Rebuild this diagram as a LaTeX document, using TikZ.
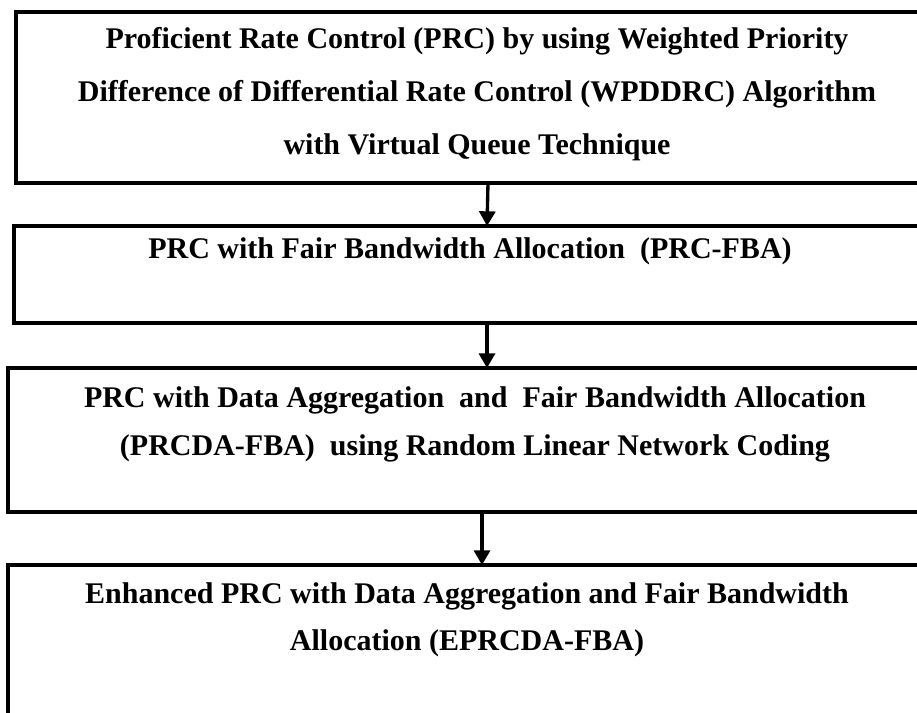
\documentclass[tikz,border=0pt]{standalone}
\usepackage{fontspec}
\setmainfont{Liberation Serif}
\usetikzlibrary{arrows.meta,positioning}

\begin{document}
\begin{tikzpicture}[x=0.75pt, y=-0.75pt,
  stagebox/.style={draw=black, line width=3pt, rectangle, anchor=north west,
    inner sep=0pt, outer sep=0pt},
  stagetext/.style={anchor=base, align=center, text=black,
    font=\fontsize{22.5}{40}\selectfont\bfseries},
  flow/.style={-{Triangle[width=12pt,length=11pt]}, line width=2.5pt}]

  \useasboundingbox (0,0) rectangle (917,713);
  \clip (0,0) rectangle (917,713);

  % ---- Stage boxes (right side runs off the page) ----
  \node[stagebox, minimum width=708pt, minimum height=128.25pt] (box1) at (16,12) {};
  \node[stagebox, minimum width=709.5pt, minimum height=72.75pt] (box2) at (14,226) {};
  \node[stagebox, minimum width=711pt, minimum height=108pt] (box3) at (8,368) {};
  \node[stagebox, minimum width=711pt, minimum height=146.25pt] (box4) at (8,565) {};

  % ---- Stage texts (anchored at last baseline) ----
  \node[stagetext] (txt1) at (477,155)
    {Proficient Rate Control (PRC) by using Weighted Priority\\
     Difference of Differential Rate Control (WPDDRC) Algorithm\\
     with Virtual Queue Technique};
  \node[stagetext] (txt2) at (470,258)
    {PRC with Fair Bandwidth Allocation~ (PRC-FBA)};
  \node[stagetext] (txt3) at (475,455)
    {PRC with Data Aggregation~ and~ Fair Bandwidth Allocation\\[-4pt]
     (PRCDA-FBA)~ using Random Linear Network Coding};
  \node[stagetext] (txt4) at (467,650)
    {Enhanced PRC with Data Aggregation and Fair Bandwidth\\[-5pt]
     Allocation (EPRCDA-FBA)};

  % ---- Flow arrows ----
  \draw[flow] (box1.south) -- (box2.north);
  \draw[flow] (box2.south) -- (box2.south |- box3.north);
  \draw[flow] (box3.south) -- (box4.north);

\end{tikzpicture}
\end{document}
